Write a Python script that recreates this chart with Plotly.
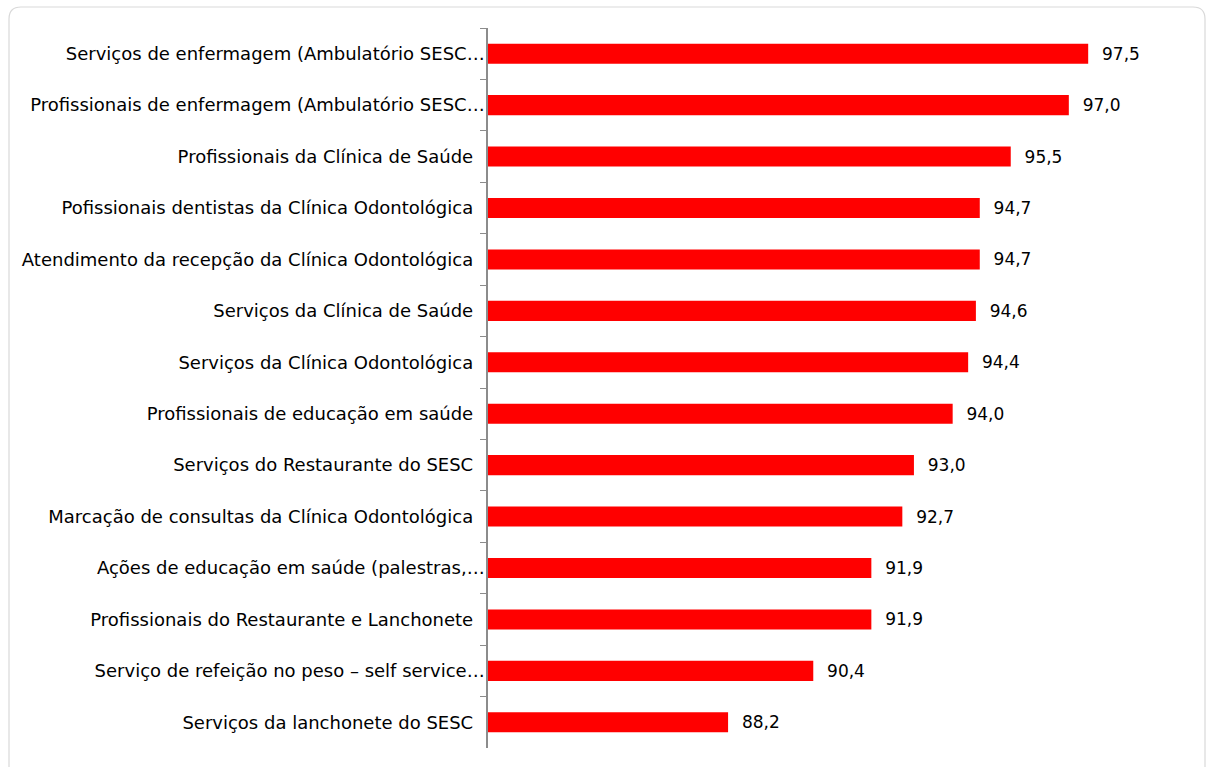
import plotly.graph_objects as go

NB = "\u00a0\u00a0"
categories = [
    "Serviços de enfermagem (Ambulatório SESC…",
    "Profissionais de enfermagem (Ambulatório SESC…",
    "Profissionais da Clínica de Saúde" + NB,
    "Pofissionais dentistas da Clínica Odontológica" + NB,
    "Atendimento da recepção da Clínica Odontológica" + NB,
    "Serviços da Clínica de Saúde" + NB,
    "Serviços da Clínica Odontológica" + NB,
    "Profissionais de educação em saúde" + NB,
    "Serviços do Restaurante do SESC" + NB,
    "Marcação de consultas da Clínica Odontológica" + NB,
    "Ações de educação em saúde (palestras,…",
    "Profissionais do Restaurante e Lanchonete" + NB,
    "Serviço de refeição no peso – self service…",
    "Serviços da lanchonete do SESC" + NB,
]
values = [97.5, 97.0, 95.5, 94.7, 94.7, 94.6, 94.4, 94.0, 93.0, 92.7, 91.9, 91.9, 90.4, 88.2]

x_min, x_max = 82, 100

fig = go.Figure(go.Bar(
    x=values,
    y=categories,
    orientation="h",
    marker=dict(color="#FF0000", line=dict(width=0)),
    width=0.39,
    text=values,
    texttemplate="\u00a0\u00a0%{x:.1f}",
    textposition="outside",
    cliponaxis=False,
    textfont=dict(family="DejaVu Sans", size=17, color="#000000"),
))

W, H = 1207, 767
l, r, t, b = 488, 22, 28, 19

fig.update_layout(
    width=W, height=H,
    margin=dict(l=l, r=r, t=t, b=b),
    paper_bgcolor="white", plot_bgcolor="white",
    separators=",.",
    showlegend=False,
    font=dict(family="DejaVu Sans", size=17, color="#000000"),
    xaxis=dict(range=[x_min, x_max], visible=False, fixedrange=True),
    yaxis=dict(
        autorange="reversed",
        showline=True, linecolor="#8C8C8C", linewidth=1.5,
        ticks="outside", tickson="boundaries", ticklen=6, tickcolor="#8C8C8C",
        tickfont=dict(family="DejaVu Sans", size=18, color="#000000"),
        ticklabelstandoff=-2,
        automargin=False,
        showgrid=False,
        fixedrange=True,
    ),
)

# rounded frame around chart area (pixel coords converted to paper coords)
pw, ph = W - l - r, H - t - b
def px(x):
    return (x - l) / pw
def py(y):
    return (H - b - y) / ph
x0, y0, x1, y1, rad = 9, 7, 1205, 800, 12
path = (f"M {px(x0 + rad)} {py(y0)} L {px(x1 - rad)} {py(y0)} "
        f"Q {px(x1)} {py(y0)} {px(x1)} {py(y0 + rad)} L {px(x1)} {py(y1)} "
        f"M {px(x0)} {py(y1)} L {px(x0)} {py(y0 + rad)} "
        f"Q {px(x0)} {py(y0)} {px(x0 + rad)} {py(y0)}")
fig.update_layout(shapes=[dict(type="path", xref="paper", yref="paper", path=path,
                               line=dict(color="#D9D9D9", width=1.2), layer="below")])

fig.write_html(
    "out.html",
    config={"displayModeBar": False},
    post_script="document.body.style.margin='0px';document.body.style.overflow='hidden';",
)
